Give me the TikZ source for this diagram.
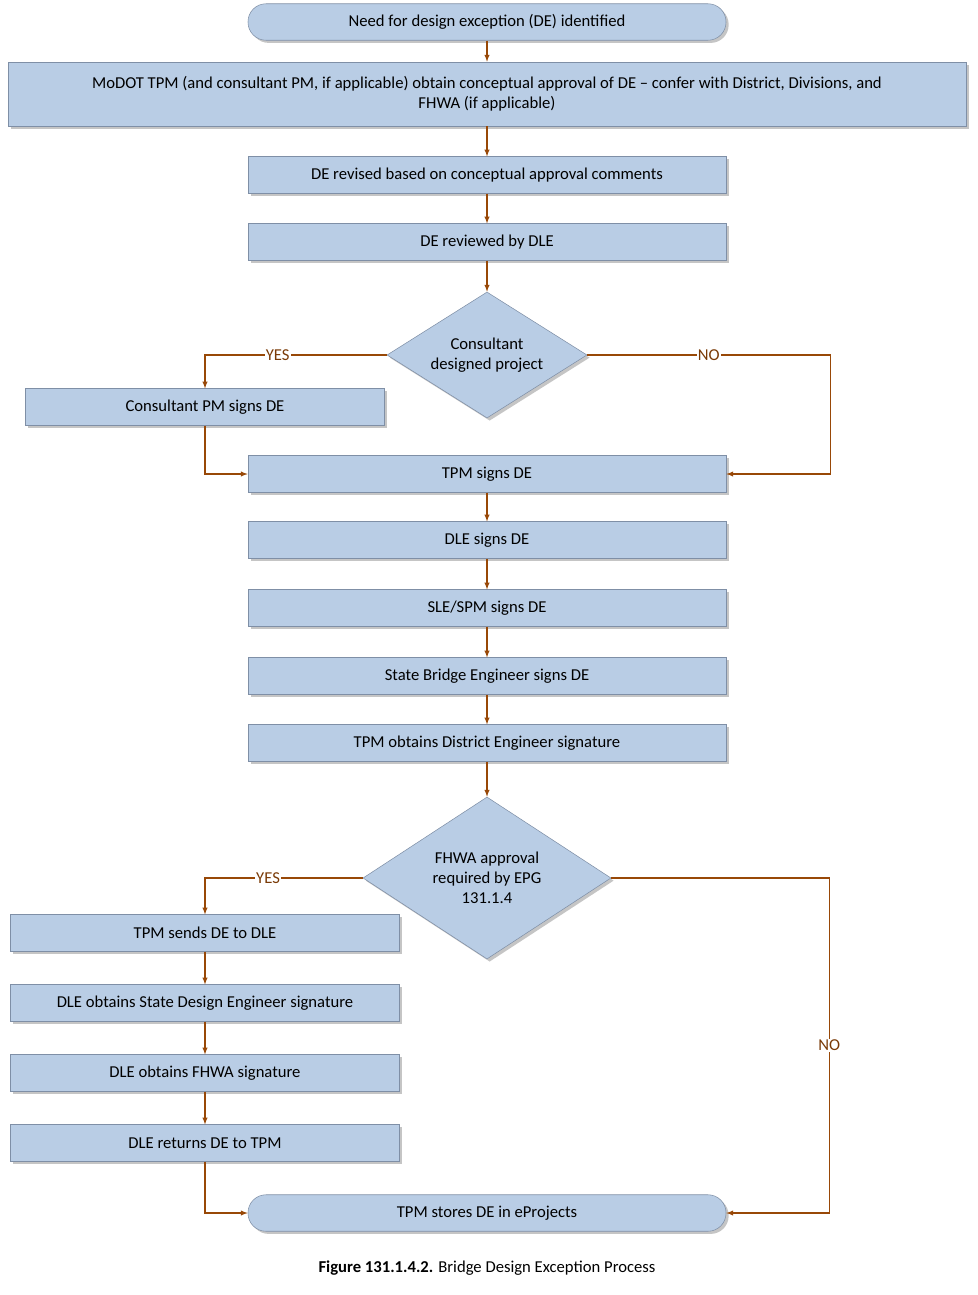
\documentclass[tikz,border=0pt]{standalone}
\usepackage{fontspec}
\setmainfont{Carlito}
\usetikzlibrary{shapes.geometric,shadows}
\definecolor{boxfill}{HTML}{B9CDE5}
\definecolor{boxline}{HTML}{7F8FA6}
\definecolor{flow}{HTML}{984807}
\tikzset{
  box/.style={draw=boxline,fill=boxfill,minimum height=36.5*0.264mm,inner sep=1pt,
    drop shadow={shadow xshift=2pt,shadow yshift=-2pt,fill=black!45},align=center},
  term/.style={box,rounded corners=18*0.264mm},
  dec/.style={diamond,draw=boxline,fill=boxfill,aspect=1.6,inner sep=0pt,align=center,
    drop shadow={shadow xshift=2pt,shadow yshift=-2pt,fill=black!45}},
  arr/.style={draw=flow,thick,-latex},
  lbl/.style={fill=white,text=flow!80!black,inner sep=1pt}
}
\begin{document}
\begin{tikzpicture}[x=0.264mm,y=-0.264mm,font=\fontsize{12.5}{15}\selectfont]
  \useasboundingbox (0,0) rectangle (978,1295);

  \node[term,minimum width=478*0.264mm] (start) at (487,22) {Need for design exception (DE) identified};
  \node[box,minimum width=958*0.264mm,minimum height=64*0.264mm] (conf) at (487,94)
    {MoDOT TPM (and consultant PM, if applicable) obtain conceptual approval of DE -- confer with District, Divisions, and\\FHWA (if applicable)};
  \node[box,minimum width=478*0.264mm] (rev) at (487,175) {DE revised based on conceptual approval comments};
  \node[box,minimum width=478*0.264mm] (rvw) at (487,242) {DE reviewed by DLE};
  \node[dec,minimum width=200*0.264mm,minimum height=126*0.264mm] (con) at (487,355) {Consultant\\designed project};
  \node[box,minimum width=359*0.264mm] (cpm) at (205,407) {Consultant PM signs DE};
  \node[box,minimum width=478*0.264mm] (tpm) at (487,474) {TPM signs DE};
  \node[box,minimum width=478*0.264mm] (dle) at (487,540) {DLE signs DE};
  \node[box,minimum width=478*0.264mm] (sle) at (487,608) {SLE/SPM signs DE};
  \node[box,minimum width=478*0.264mm] (sbe) at (487,676) {State Bridge Engineer signs DE};
  \node[box,minimum width=478*0.264mm] (tde) at (487,743) {TPM obtains District Engineer signature};
  \node[dec,minimum width=248*0.264mm,minimum height=162*0.264mm] (fhwa) at (487,878) {FHWA approval\\required by EPG\\131.1.4};
  \node[box,minimum width=389*0.264mm] (send) at (205,933) {TPM sends DE to DLE};
  \node[box,minimum width=389*0.264mm] (sde) at (205,1003) {DLE obtains State Design Engineer signature};
  \node[box,minimum width=389*0.264mm] (fsig) at (205,1073) {DLE obtains FHWA signature};
  \node[box,minimum width=389*0.264mm] (ret) at (205,1143) {DLE returns DE to TPM};
  \node[term,minimum width=478*0.264mm] (store) at (487,1213) {TPM stores DE in eProjects};

  \node at (487,1268) {\textbf{Figure 131.1.4.2.} Bridge Design Exception Process};

  \draw[arr] (start) -- (conf);
  \draw[arr] (conf) -- (rev);
  \draw[arr] (rev) -- (rvw);
  \draw[arr] (rvw) -- (con);
  \draw[arr] (con.west) -| node[lbl,pos=0.3] {YES} (cpm.north);
  \draw[arr] (con.east) -- ++(243,0) node[lbl,pos=0.5] {NO} |- (tpm.east);
  \draw[arr] (cpm.south) |- (tpm.west);
  \draw[arr] (tpm) -- (dle);
  \draw[arr] (dle) -- (sle);
  \draw[arr] (sle) -- (sbe);
  \draw[arr] (sbe) -- (tde);
  \draw[arr] (tde) -- (fhwa);
  \draw[arr] (fhwa.west) -| node[lbl,pos=0.3] {YES} (send.north);
  \draw[arr] (send) -- (sde);
  \draw[arr] (sde) -- (fsig);
  \draw[arr] (fsig) -- (ret);
  \draw[arr] (ret.south) |- (store.west);
  \draw[arr] (fhwa.east) -- ++(218,0) |- node[lbl,pos=0.25] {NO} (store.east);
\end{tikzpicture}
\end{document}
